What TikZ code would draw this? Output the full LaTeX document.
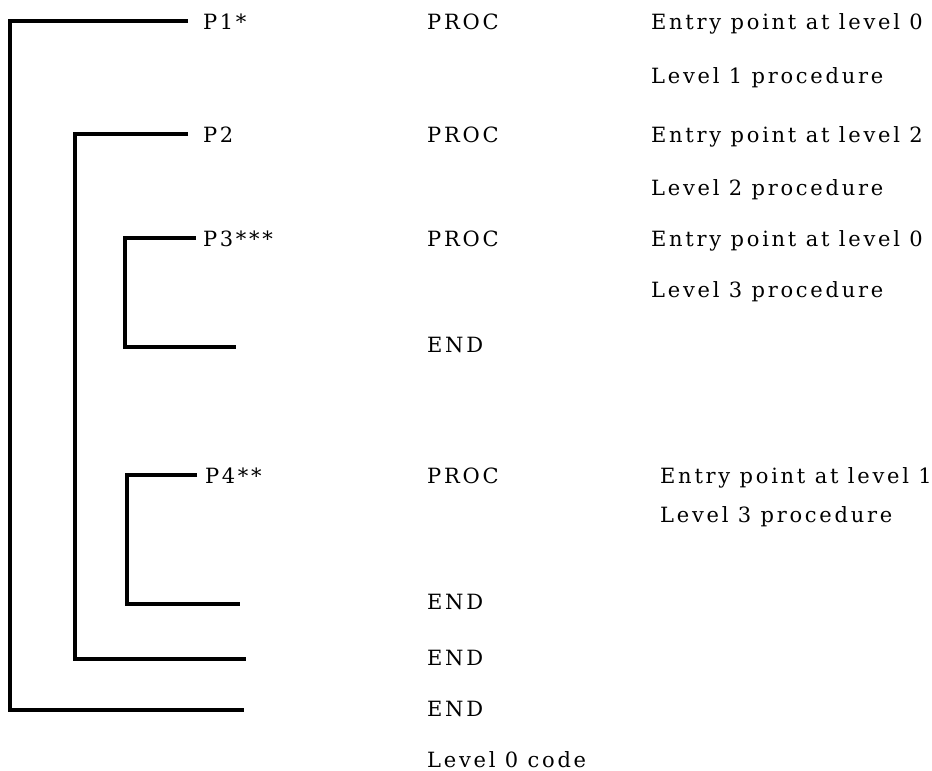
\documentclass[tikz,border=0pt]{standalone}
\usepackage{fontspec}
\setmainfont{DejaVu Serif}[LetterSpace=13]
\usepackage{tikz}
\usetikzlibrary{positioning, calc}
\tikzset{
    txt/.style={anchor=base west, inner sep=0pt, font=\fontsize{21}{25}\selectfont},
    plab/.style={txt, outer xsep=#1},
    brk/.style={line width=3.8pt},
}

\begin{document}
\begin{tikzpicture}[x=1pt, y=-1pt]
    \useasboundingbox (0,0) rectangle (932,771);

    \node[plab=15pt] (p1) at (188, 29) {P1*};
    \node[plab=15pt] (p2) at (188, 142) {P2};
    \node[plab=7pt] (p3) at (196, 246) {P3***};
    \node[plab=8pt] (p4) at (197, 483) {P4**};

    \node[txt] (c1) at (427, 29) {PROC};
    \node[txt] (c2) at (427, 142) {PROC};
    \node[txt] (c3) at (427, 246) {PROC};
    \node[txt] (d3) at (427, 352) {END};
    \node[txt] (c4) at (427, 483) {PROC};
    \node[txt] (d4) at (427, 609) {END};
    \node[txt] (d2) at (427, 665) {END};
    \node[txt] (d1) at (427, 716) {END};
    \node[txt] (l0) at (427, 767) {Level 0 code};

    \node[txt] (n1) at (651, 29) {Entry point at level 0};
    \node[txt] (l1) at (651, 83) {Level 1 procedure};
    \node[txt] (n2) at (651, 142) {Entry point at level 2};
    \node[txt] (l2) at (651, 195) {Level 2 procedure};
    \node[txt] (n3) at (651, 246) {Entry point at level 0};
    \node[txt] (l3) at (651, 297) {Level 3 procedure};
    \node[txt] (n4) at (660, 483) {Entry point at level 1};
    \node[txt] (l4) at (660, 522) {Level 3 procedure};

    \coordinate (k1) at (10, 710);
    \coordinate (e1) at (244, 710);
    \coordinate (k2) at (75, 659);
    \coordinate (e2) at (246, 659);
    \coordinate (k3) at (125, 347);
    \coordinate (e3) at (236, 347);
    \coordinate (k4) at (127, 604);
    \coordinate (e4) at (240, 604);

    \draw[brk] (p1.west) -| (k1) -- (e1);
    \draw[brk] (p2.west) -| (k2) -- (e2);
    \draw[brk] (p3.west) -| (k3) -- (e3);
    \draw[brk] (p4.west) -| (k4) -- (e4);
\end{tikzpicture}
\end{document}
